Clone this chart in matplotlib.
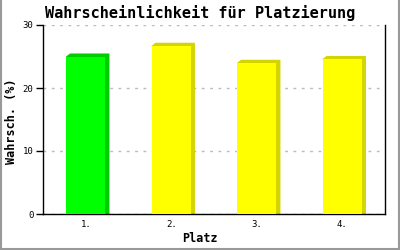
import matplotlib
matplotlib.use("Agg")
import matplotlib.pyplot as plt
from matplotlib.patches import Polygon
from matplotlib.lines import Line2D

places = ["1.", "2.", "3.", "4."]
probs = [25.0, 26.7, 24.0, 24.6]
front_colors = ["#00ff00", "#ffff00", "#ffff00", "#ffff00"]
side_colors = ["#00cc00", "#d4d400", "#d4d400", "#d4d400"]

plt.rcParams["font.family"] = "DejaVu Sans Mono"

fig = plt.figure(figsize=(4, 2.5), dpi=100)
fig.patch.set_facecolor("white")
ax = fig.add_axes([0.1075, 0.144, 0.855, 0.756])

width = 0.46
dx = 0.047  # depth offset in x (data units)
dy = 0.48   # depth offset in y (data units)

for i, (v, fc, sc) in enumerate(zip(probs, front_colors, side_colors)):
    x0 = i - width / 2
    x1 = i + width / 2
    # side + top face
    back = Polygon([(x0, v), (x0 + dx, v + dy), (x1 + dx, v + dy),
                    (x1 + dx, 0), (x1, 0)], closed=True,
                   facecolor=sc, edgecolor="none", zorder=2)
    ax.add_patch(back)
    ax.bar(i, v, width=width, color=fc, edgecolor="none", zorder=3)

ax.set_xlim(-0.5, 3.5)
ax.set_ylim(0, 30)
ax.set_yticks([0, 10, 20, 30])
ax.set_xticks(range(len(places)))
ax.set_xticklabels(places)
ax.yaxis.grid(True, color="#bbbbbb", linestyle=(0, (2, 4)), linewidth=1)
ax.set_axisbelow(True)
ax.tick_params(axis="x", length=0, labelsize=6.5, pad=4)
ax.tick_params(axis="y", length=5, width=1, labelsize=6.5, pad=2)
ax.spines["top"].set_visible(False)
for s in ["left", "bottom", "right"]:
    ax.spines[s].set_color("black")
    ax.spines[s].set_linewidth(1)

fig.text(0.5, 1 - 239 / 250, "Platz", ha="center", va="center",
         fontsize=8.5, fontweight="bold")
fig.text(12 / 400, 1 - 121 / 250, "Wahrsch. (%)", ha="center", va="center",
         rotation=90, fontsize=8.5, fontweight="bold")
fig.text(0.5, 0.948, "Wahrscheinlichkeit für Platzierung", ha="center",
         va="center", fontsize=11, fontweight="bold")

# grey frame around the image (left, right, bottom)
for xs, ys in [([0.002, 0.002], [0, 1]), ([0.998, 0.998], [0, 1]),
               ([0, 1], [0.004, 0.004])]:
    fig.add_artist(Line2D(xs, ys, color="#999999", linewidth=1.5,
                          transform=fig.transFigure))

fig.savefig("out.png", dpi=100)
